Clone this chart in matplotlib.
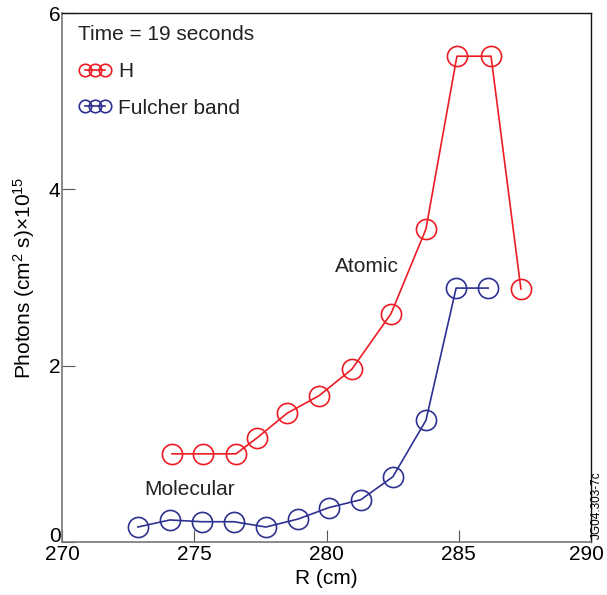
import matplotlib
matplotlib.use("Agg")
import matplotlib.pyplot as plt
import matplotlib.transforms as mtransforms

plt.rcParams['font.family'] = ['Liberation Sans', 'DejaVu Sans']
plt.rcParams['mathtext.fontset'] = 'custom'
plt.rcParams['mathtext.rm'] = 'Liberation Sans'
plt.rcParams['mathtext.it'] = 'Liberation Sans:italic'

# H (atomic) emission profile
r_h = [274.16, 275.33, 276.58, 277.37, 278.51, 279.72, 280.96, 282.44, 283.76, 284.93, 286.22, 287.35]
ph_h = [1.00, 1.00, 1.00, 1.18, 1.46, 1.66, 1.96, 2.59, 3.55, 5.51, 5.51, 2.87]

# Fulcher band (molecular) emission profile
r_f = [272.87, 274.08, 275.29, 276.50, 277.71, 278.92, 280.09, 281.30, 282.51, 283.76, 284.90, 286.11]
ph_f = [0.17, 0.25, 0.23, 0.23, 0.17, 0.26, 0.39, 0.48, 0.74, 1.38, 2.88, 2.88]

red = '#ED1C24'
blue = '#2E3192'
fs = 15

fig = plt.figure(figsize=(6.07, 5.95), dpi=100)
ax = fig.add_axes([62/607, 1-542/595, 529/607, 529/595])

ax.plot(r_h, ph_h, color=red, lw=1.2, marker='o', ms=14.5, mfc='none', mec=red, mew=1.2, label='H')
ax.plot(r_f, ph_f, color=blue, lw=1.2, marker='o', ms=14.5, mfc='none', mec=blue, mew=1.2, label='Fulcher band')

ax.set_xlim(270, 290)
ax.set_ylim(0, 6)
ax.set_xticks([270, 275, 280, 285, 290])
ax.set_yticks([0, 2, 4, 6])
ax.tick_params(direction='in', length=9, width=0.8, color='#555555', labelsize=fs, pad=2)
ax.tick_params(axis='y', pad=1)

# nudge the corner tick labels the way the original figure has them
ylabels = ax.get_yticklabels()
ylabels[0].set_va('baseline')
ylabels[-1].set_va('baseline')
ylabels[-1].set_transform(ylabels[-1].get_transform() +
                          mtransforms.ScaledTranslation(0, -8/100, fig.dpi_scale_trans))
xlabels = ax.get_xticklabels()
xlabels[-1].set_transform(xlabels[-1].get_transform() +
                          mtransforms.ScaledTranslation(-4.5/100, 0, fig.dpi_scale_trans))

for s in ['left', 'bottom']:
    ax.spines[s].set_color('#777777')
    ax.spines[s].set_linewidth(1.2)
for s in ['top', 'right']:
    ax.spines[s].set_color('#111111')
    ax.spines[s].set_linewidth(1.0)

ax.set_xlabel('R (cm)', fontsize=fs, labelpad=4)
ax.set_ylabel('Photons (cm$^2$ s)×10$^{15}$', fontsize=fs)
ax.yaxis.set_label_coords(-0.047, 0.5)

ax.text(281.53, 3.12, 'Atomic', fontsize=fs, ha='center', va='center', color='#222222')
ax.text(274.84, 0.60, 'Molecular', fontsize=fs, ha='center', va='center', color='#222222')

leg = ax.legend(loc='upper left', bbox_to_anchor=(0.021, 0.987), frameon=False,
                title='Time = 19 seconds', alignment='left',
                numpoints=3, markerscale=0.62, handlelength=1.6, handletextpad=0.3,
                fontsize=fs, title_fontsize=fs, labelspacing=0.85, borderaxespad=0.25,
                borderpad=0.0)
for t in leg.get_texts():
    t.set_color('#222222')
leg.get_title().set_color('#222222')

fig.text(597/607, 1-505/595, 'JG04.303-7c', rotation=90, fontsize=8.5, ha='center', va='center')

fig.savefig('out.png', dpi=100)
